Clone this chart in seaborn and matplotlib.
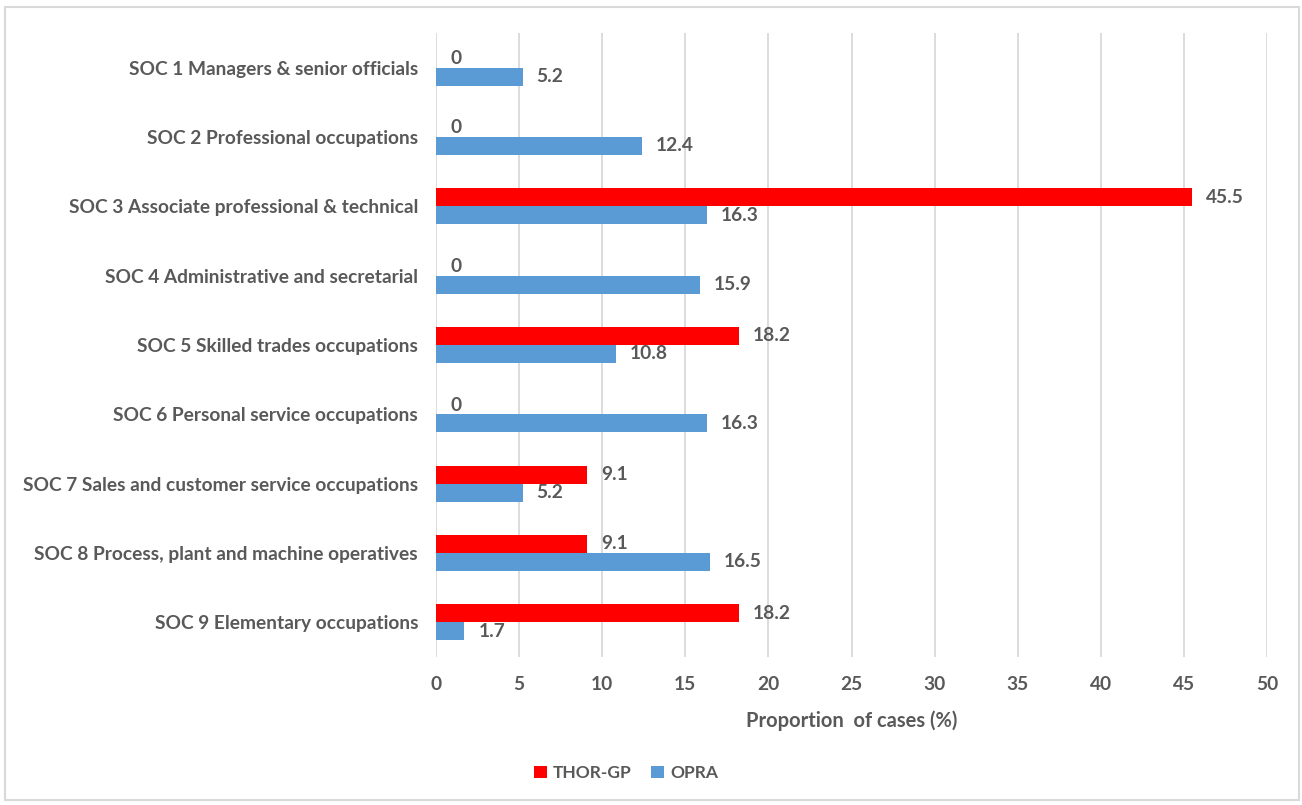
import matplotlib
matplotlib.use("Agg")
import matplotlib.pyplot as plt
import seaborn as sns
import pandas as pd
from matplotlib.patches import Rectangle

categories = [
    "SOC 1 Managers & senior officials",
    "SOC 2 Professional occupations",
    "SOC 3 Associate professional & technical",
    "SOC 4 Administrative and secretarial",
    "SOC 5 Skilled trades occupations",
    "SOC 6 Personal service occupations",
    "SOC 7 Sales and customer service occupations",
    "SOC 8 Process, plant and machine operatives",
    "SOC 9 Elementary occupations",
]
thor_gp = [0, 0, 45.5, 0, 18.2, 0, 9.1, 9.1, 18.2]
opra = [5.2, 12.4, 16.3, 15.9, 10.8, 16.3, 5.2, 16.5, 1.7]
series_names = ["THOR-GP", "OPRA"]
xticks = [0, 5, 10, 15, 20, 25, 30, 35, 40, 45, 50]

df = pd.DataFrame({
    "category": categories * 2,
    "value": thor_gp + opra,
    "series": [series_names[0]] * len(categories) + [series_names[1]] * len(categories),
})

sns.set_theme(style="white")
plt.rcParams["font.family"] = ["Lato", "DejaVu Sans"]
grey = "#595959"
fs = 13.8

fig = plt.figure(figsize=(13.02, 8.05), dpi=100)
ax = fig.add_axes([0.335, 0.184, 0.638, 0.775])

sns.barplot(data=df, y="category", x="value", hue="series", hue_order=series_names,
            order=categories, palette=["#ff0000", "#5b9bd5"], orient="h",
            width=0.52, ax=ax, saturation=1, edgecolor="none")

for cont in ax.containers:
    ax.bar_label(cont, labels=[f"{v:g}" for v in cont.datavalues], padding=10,
                 fontsize=fs, fontweight="bold", color=grey)

ax.set_xlim(0, 50)
ax.set_xticks(xticks)
ax.set_xticklabels([str(t) for t in xticks], fontsize=fs, fontweight="bold", color=grey)
ax.set_yticklabels(categories, fontsize=fs, fontweight="bold", color=grey)
ax.tick_params(axis="both", length=0)
ax.tick_params(axis="x", pad=14)
ax.tick_params(axis="y", pad=13)
ax.set_ylabel("")
ax.set_xlabel("Proportion  of cases (%)", fontsize=fs + 0.7, fontweight="bold", color=grey, labelpad=12)
ax.grid(axis="x", color="#d9d9d9", linewidth=1.3)
ax.set_axisbelow(True)
for s in ax.spines.values():
    s.set_visible(False)

leg = ax.legend(loc="center", bbox_to_anchor=(626 / 1302, 1 - 773 / 805),
                bbox_transform=fig.transFigure, frameon=False, ncol=2,
                handlelength=0.75, handleheight=0.75, handletextpad=0.35, columnspacing=1.1,
                prop={"weight": "bold", "size": 12.5})
for t in leg.get_texts():
    t.set_color(grey)

fig.patches.append(Rectangle((5 / 1302, 5 / 805), 1294 / 1302, 793 / 805,
                             transform=fig.transFigure, fill=False,
                             edgecolor="#d9d9d9", linewidth=1.5))

fig.savefig("out.png", dpi=100, facecolor="white")
